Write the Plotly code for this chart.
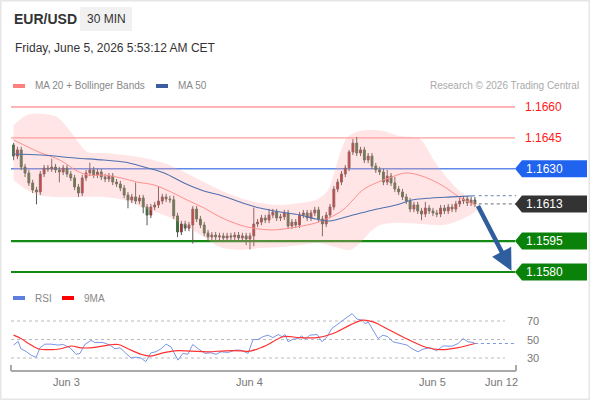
import plotly.graph_objects as go

W, H = 590, 400
def px(x): return x / W
def py(y): return 1 - y / H

# ---------------- data ----------------
closes = [
1.16362, 1.16392, 1.16309, 1.16280, 1.16232, 1.16198, 1.16188, 1.16275, 1.16304, 1.16300,
1.16309, 1.16295, 1.16285, 1.16304, 1.16275, 1.16256, 1.16212, 1.16183, 1.16256, 1.16280,
1.16295, 1.16270, 1.16285, 1.16261, 1.16251, 1.16265, 1.16236, 1.16227, 1.16207, 1.16173,
1.16149, 1.16164, 1.16144, 1.16159, 1.16115, 1.16076, 1.16115, 1.16125, 1.16144, 1.16164,
1.16154, 1.16150, 1.16072, 1.15994, 1.16033, 1.16013, 1.16028, 1.16105, 1.16057, 1.16028,
1.15989, 1.15970, 1.15979, 1.15970, 1.15975, 1.15965, 1.15975, 1.15970, 1.15979, 1.15965,
1.15975, 1.15960, 1.15975, 1.16033, 1.16042, 1.16062, 1.16052, 1.16076, 1.16091, 1.16062,
1.16067, 1.16086, 1.16023, 1.16042, 1.16028, 1.16076, 1.16086, 1.16062, 1.16086, 1.16101,
1.16057, 1.16033, 1.16076, 1.16115, 1.16202, 1.16236, 1.16275, 1.16304, 1.16382, 1.16425,
1.16377, 1.16392, 1.16343, 1.16362, 1.16314, 1.16295, 1.16285, 1.16236, 1.16265, 1.16232,
1.16202, 1.16188, 1.16164, 1.16144, 1.16105, 1.16125, 1.16096, 1.16081, 1.16110, 1.16096,
1.16086, 1.16081, 1.16110, 1.16096, 1.16115, 1.16105, 1.16130, 1.16144, 1.16154, 1.16135,
1.16149, 1.16130]

opens = [
1.16416, 1.16362, 1.16392, 1.16309, 1.16280, 1.16232, 1.16198, 1.16188, 1.16275, 1.16304,
1.16300, 1.16309, 1.16295, 1.16285, 1.16304, 1.16275, 1.16256, 1.16212, 1.16183, 1.16256,
1.16280, 1.16295, 1.16270, 1.16285, 1.16261, 1.16251, 1.16265, 1.16236, 1.16227, 1.16207,
1.16173, 1.16149, 1.16164, 1.16144, 1.16159, 1.16115, 1.16076, 1.16115, 1.16125, 1.16144,
1.16164, 1.16154, 1.16150, 1.16072, 1.15994, 1.16033, 1.16013, 1.16028, 1.16105, 1.16057,
1.16028, 1.15989, 1.15970, 1.15979, 1.15970, 1.15975, 1.15965, 1.15975, 1.15970, 1.15979,
1.15965, 1.15975, 1.15960, 1.15975, 1.16033, 1.16042, 1.16062, 1.16052, 1.16076, 1.16091,
1.16062, 1.16067, 1.16086, 1.16023, 1.16042, 1.16028, 1.16076, 1.16086, 1.16062, 1.16086,
1.16101, 1.16057, 1.16033, 1.16076, 1.16115, 1.16202, 1.16236, 1.16275, 1.16304, 1.16382,
1.16425, 1.16377, 1.16392, 1.16343, 1.16362, 1.16314, 1.16295, 1.16285, 1.16236, 1.16265,
1.16232, 1.16202, 1.16188, 1.16164, 1.16144, 1.16105, 1.16125, 1.16096, 1.16081, 1.16110,
1.16096, 1.16086, 1.16081, 1.16110, 1.16096, 1.16115, 1.16105, 1.16130, 1.16144, 1.16154,
1.16135, 1.16149]

# upper / lower wick lengths in pips
wick_up = [
1, 1.5, 1.5, 1.5, 1.5, 1.5, 1.5, 1.5, 1.5, 1.5,
4, 1.5, 1.5, 1.5, 1.5, 1.5, 1.5, 1.5, 1.5, 1.5,
3.5, 1.5, 1.5, 1.5, 1.5, 1.5, 1.5, 1.5, 1.5, 1.5,
1.5, 1.5, 7, 1.5, 1.5, 1.5, 1.5, 1.5, 7, 1.5,
1.5, 1.5, 2, 1.5, 1.5, 1.5, 1.5, 1.5, 1.5, 1.5,
1.5, 1.5, 1.5, 1.5, 1.5, 1.5, 1.5, 1.5, 1.5, 1.5,
1.5, 1.5, 1.5, 8, 1.5, 1.5, 1.5, 3, 1.5, 1.5,
1.5, 1.5, 1.5, 1.5, 1.5, 1.5, 1.5, 1.5, 1.5, 1.5,
1.5, 1.5, 1.5, 1.5, 1.5, 1.5, 1.5, 1.5, 1, 2,
3, 1.5, 1.5, 1.5, 1.5, 1.5, 1.5, 1.5, 3, 1.5,
3, 1.5, 1.5, 1.5, 1.5, 1.5, 1.5, 1.5, 3, 1.5,
1.5, 1.5, 1.5, 1.5, 1.5, 1.5, 1.5, 1.5, 1.5, 1.5,
1.5, 1.5]
wick_dn = [
2, 1.5, 1.5, 2, 1.5, 1.5, 6, 1.5, 1.5, 1.5,
1.5, 1.5, 5, 1.5, 1.5, 1.5, 1.5, 2, 1.5, 1.5,
1.5, 1.5, 1.5, 1.5, 1.5, 1.5, 1.5, 1.5, 1.5, 1.5,
4, 1.5, 1.5, 1.5, 3, 5, 1.5, 1.5, 1.5, 1.5,
1.5, 1.5, 1.5, 2.5, 1.5, 1.5, 1.5, 9, 1.5, 1.5,
1.5, 2, 1.5, 1.5, 1.5, 1.5, 1.5, 1.5, 1.5, 1.5,
1.5, 3, 5, 5, 1.5, 1.5, 1.5, 1.5, 1.5, 1.5,
1.5, 1.5, 1.5, 1.5, 1.5, 1.5, 1.5, 1.5, 1.5, 1.5,
1.5, 6, 1.5, 1.5, 1.5, 1.5, 1.5, 1.5, 1.5, 1.5,
1.5, 1.5, 1.5, 1.5, 1.5, 1.5, 1.5, 1.5, 1.5, 1.5,
1.5, 1.5, 1.5, 1.5, 1.5, 1.5, 1.5, 3, 1.5, 1.5,
1.5, 1.5, 1.5, 1.5, 1.5, 1.5, 1.5, 1.5, 1.5, 1.5,
1.5, 1.5]

# MA20 (candle index, price)
ma20_x = [0, 3.8, 7.2, 10.9, 13.5, 16.1, 19.5, 23.7, 28.2, 32.4, 36.8, 41.3, 45.5, 50, 54.1,
          59.4, 62.8, 68, 74.1, 79.3, 82.7, 86.4, 89, 91.6, 95.1, 98.5, 102.7, 106.3, 109.7,
          113.1, 116.8, 121]
ma20_y = [1.16440, 1.16406, 1.16377, 1.16353, 1.16328, 1.16295, 1.16270, 1.16270, 1.16256,
          1.16236, 1.16222, 1.16188, 1.16149, 1.16110, 1.16067, 1.16028, 1.16013, 1.16004,
          1.16018, 1.16038, 1.16062, 1.16101, 1.16149, 1.16198, 1.16232, 1.16256, 1.16280,
          1.16270, 1.16246, 1.16212, 1.16164, 1.16125]

# MA50
ma50_x = [0, 7.2, 16.1, 23.7, 29, 34.2, 39.5, 44.7, 49.9, 54.1, 59.4, 64.6, 69.9, 75.1, 79.3,
          82.7, 89, 94.3, 100.3, 104.5, 109.7, 115, 121]
ma50_y = [1.16372, 1.16367, 1.16353, 1.16343, 1.16333, 1.16309, 1.16280, 1.16232, 1.16193,
          1.16173, 1.16139, 1.16110, 1.16091, 1.16076, 1.16057, 1.16047, 1.16076, 1.16101,
          1.16125, 1.16149, 1.16159, 1.16164, 1.16170]

# Bollinger bands
bb_up_x = [0, 3.5, 7.7, 11.4, 14, 16.6, 19.3, 23.7, 29, 34.2, 39.4, 44.7, 49.9, 54.1, 59.4,
           64.6, 69.9, 75.1, 79.3, 82.5, 84.3, 87.4, 90.9, 96.9, 101.3, 106.6, 110.5, 114.2,
           117.6, 121.5]
bb_up_y = [1.16513, 1.16561, 1.16566, 1.16552, 1.16503, 1.16440, 1.16382, 1.16377, 1.16367,
           1.16353, 1.16328, 1.16285, 1.16236, 1.16198, 1.16159, 1.16135, 1.16125, 1.16135,
           1.16149, 1.16198, 1.16295, 1.16450, 1.16484, 1.16484, 1.16459, 1.16445, 1.16333,
           1.16246, 1.16183, 1.16135]
bb_lo_x = [0, 3.5, 7.7, 16.6, 23.7, 29, 34.2, 39.4, 44.7, 49.9, 54.1, 59.4, 64.6, 69.9, 75.1,
           80.4, 84.3, 88.2, 90.9, 93.5, 96.1, 100, 106.6, 112.6, 117.1, 121.5]
bb_lo_y = [1.16246, 1.16198, 1.16168, 1.16164, 1.16164, 1.16149, 1.16110, 1.16076, 1.16028,
           1.15970, 1.15921, 1.15907, 1.15916, 1.15921, 1.15931, 1.15941, 1.15921, 1.15907,
           1.15941, 1.15994, 1.16028, 1.16038, 1.16033, 1.16028, 1.16052, 1.16101]

# RSI and its 9MA
rsi_x = [0, 1.2, 1.9, 3.3, 4.6, 5.9, 6.9, 8.2, 9.8, 11.6, 13, 14.8, 16.4, 17.4, 18.7, 20.3,
         21.3, 23.4, 25.3, 26.6, 27.9, 29.5, 30.8, 32.1, 33.4, 34.7, 36, 37.3, 38.7, 40, 41.3,
         43.1, 44.4, 45.7, 47, 48.4, 50.2, 51.8, 53.1, 54.4, 56.3, 58.1, 59.6, 61.5, 62.8,
         64.1, 65.4, 66.7, 68, 69.4, 70.4, 71.2, 72, 73.3, 74.6, 75.6, 76.4, 77.7, 79.6, 80.9,
         82.2, 83.5, 84.8, 86.4, 87.7, 88.8, 90.1, 91.4, 92.2, 93, 94.3, 95.6, 96.9, 98.2,
         99.5, 101.3, 103.2, 104.5, 106.1, 107.4, 109.3, 111, 112.6, 115, 116.6, 117.9, 119.2,
         120.5, 121]
rsi_y = [43.9, 48, 40, 37, 33, 30.6, 41, 45, 45, 44, 44.6, 41, 34, 35, 44.6, 49, 46.8, 46.8,
         44, 40, 41, 35, 30, 31, 30, 26, 35.6, 36.7, 40, 45, 42, 27.7, 35, 34, 44.6, 40, 35,
         35.6, 34, 36.7, 36, 38.5, 38.5, 35, 50, 50, 53, 54.7, 52, 55.4, 53, 55.4, 47.5, 50.4,
         51, 54, 50, 54.7, 55.4, 47.5, 53, 62, 66, 70, 74.5, 78, 72, 71, 67, 69, 60, 51, 54.7,
         53, 47.5, 45.7, 44, 40, 36.7, 39.6, 41, 37.8, 43, 42.8, 45.7, 51, 47.5, 46.8, 45.7]
ma9_x = [0, 1.9, 4.6, 6.4, 9.8, 12.4, 15.1, 17.7, 21.3, 24.8, 27.4, 30, 33.4, 36, 38.7, 42.3,
         46.5, 51, 55.5, 59.6, 62, 66.5, 70.7, 75.1, 79.6, 83.8, 88.2, 91.6, 94.3, 98.7, 104,
         108.4, 111.8, 116.3, 121]
ma9_y = [54.7, 51, 44, 40, 39, 40, 43, 41, 41.4, 44, 44.6, 40, 34, 32, 35, 37.8, 37.4, 36.7,
         37.8, 37.8, 37.4, 44, 53, 52, 52, 56.5, 65.5, 71, 69, 60, 49, 41.4, 39, 41, 45.7]

levels_red = [1.1660, 1.1645]
level_blue = 1.1630
level_last = 1.1613
levels_green = [1.1595, 1.1580]
rsi_levels = [70, 50, 30]

tick_idx = [14, 62, 110, 128]
tick_text = ["Jun 3", "Jun 4", "Jun 5", "Jun 12"]

idx = list(range(len(closes)))
highs = [max(o, c) + u * 0.0001 for o, c, u in zip(opens, closes, wick_up)]
lows = [min(o, c) - d * 0.0001 for o, c, d in zip(opens, closes, wick_dn)]

# ---------------- figure ----------------
FONT = "Liberation Sans, Arial, sans-serif"
fig = go.Figure()

fig.add_trace(go.Scatter(
    x=bb_up_x + bb_lo_x[::-1], y=bb_up_y + bb_lo_y[::-1], fill="toself",
    fillcolor="rgba(255,160,160,0.28)", line=dict(width=0, shape="spline", smoothing=0.8),
    mode="lines", hoverinfo="skip", showlegend=False))
fig.add_trace(go.Scatter(x=ma20_x, y=ma20_y, mode="lines",
    line=dict(color="#FF8F8F", width=1, shape="spline"), hoverinfo="skip", showlegend=False))
fig.add_trace(go.Scatter(x=ma50_x, y=ma50_y, mode="lines",
    line=dict(color="#5070AE", width=1.1, shape="spline"), hoverinfo="skip", showlegend=False))
fig.add_trace(go.Candlestick(
    x=idx, open=opens, high=highs, low=lows, close=closes,
    increasing=dict(fillcolor="#E01010", line=dict(color="#6a5050", width=1)),
    decreasing=dict(fillcolor="#1E7E1E", line=dict(color="#4f5f4f", width=1)),
    whiskerwidth=0, hoverinfo="skip", showlegend=False))

# RSI
fig.add_trace(go.Scatter(x=rsi_x, y=rsi_y, mode="lines", yaxis="y2",
    line=dict(color="#7B96E6", width=1), hoverinfo="skip", showlegend=False))
fig.add_trace(go.Scatter(x=ma9_x, y=ma9_y, mode="lines", yaxis="y2",
    line=dict(color="#FF3030", width=1.2, shape="spline"), hoverinfo="skip", showlegend=False))
fig.add_trace(go.Scatter(x=[rsi_x[-1], 131.5], y=[rsi_y[-1], rsi_y[-1]], mode="lines", yaxis="y2",
    line=dict(color="#7B96E6", width=1.2, dash="dot"), hoverinfo="skip", showlegend=False))

shapes = []
ann = []

# frame
shapes.append(dict(type="rect", xref="paper", yref="paper", x0=0, y0=0, x1=1, y1=1,
                   line=dict(color="#e6e6e6", width=3), layer="above"))
# header box
shapes.append(dict(type="rect", xref="paper", yref="paper", x0=px(80), x1=px(132),
                   y0=py(31), y1=py(7), fillcolor="#f1f1f1", line=dict(width=0), layer="below"))

# level lines
for lv in levels_red:
    shapes.append(dict(type="line", xref="paper", yref="y", x0=px(11), x1=px(515), y0=lv, y1=lv,
                       line=dict(color="#FF9C9C", width=1.3), layer="below"))
    ann.append(dict(xref="paper", yref="y", x=px(523), y=lv, text=f"{lv:.4f}", showarrow=False,
                    xanchor="left", yanchor="middle", font=dict(color="#FF1A1A", size=12, family=FONT)))
shapes.append(dict(type="line", xref="paper", yref="y", x0=px(11), x1=px(515), y0=level_blue,
                   y1=level_blue, line=dict(color="#5F8BE8", width=1.5), layer="below"))
for lv in levels_green:
    shapes.append(dict(type="line", xref="paper", yref="y", x0=px(11), x1=px(515), y0=lv, y1=lv,
                       line=dict(color="#138A13", width=2.2), layer="below"))

# dotted continuation lines
shapes.append(dict(type="line", xref="x", yref="y", x0=idx[-1] + 1, x1=131.8,
                   y0=closes[-1], y1=closes[-1], line=dict(color="#888888", width=1.2, dash="dot")))
shapes.append(dict(type="line", xref="x", yref="y", x0=idx[-1] + 1, x1=131.8,
                   y0=ma50_y[-1], y1=ma50_y[-1], line=dict(color="#8a9abb", width=1.2, dash="dot")))

# price tags
tag_path = "M0,0 L7,8.5 L72,8.5 L72,-8.5 L7,-8.5 Z"
tags = [(level_blue, "#1F63EE"), (level_last, "#333333")] + [(g, "#0A820A") for g in levels_green]
for lv, col in tags:
    shapes.append(dict(type="path", xref="paper", yref="y", xsizemode="pixel", ysizemode="pixel",
                       xanchor=px(515), yanchor=lv, path=tag_path, fillcolor=col,
                       line=dict(width=0), layer="above"))
    ann.append(dict(xref="paper", yref="y", x=px(524), y=lv, text=f"{lv:.4f}", showarrow=False,
                    xanchor="left", yanchor="middle", font=dict(color="white", size=12, family=FONT)))

# RSI guide lines
for lv in rsi_levels:
    shapes.append(dict(type="line", xref="paper", yref="y2", x0=px(11), x1=px(505), y0=lv, y1=lv,
                       line=dict(color="#BBBBBB", width=1.2, dash="dot"), layer="below"))
    ann.append(dict(xref="paper", yref="y2", x=px(525), y=lv, text=str(lv), showarrow=False,
                    xanchor="left", yanchor="middle", font=dict(color="#777777", size=11, family=FONT)))

# bottom axis
ax_col = "#AAAAAA"
shapes.append(dict(type="line", xref="paper", yref="paper", x0=px(11), x1=px(516), y0=py(371),
                   y1=py(371), line=dict(color=ax_col, width=2)))
for xe in (11, 516):
    shapes.append(dict(type="line", xref="paper", yref="paper", x0=px(xe), x1=px(xe), y0=py(371),
                       y1=py(365), line=dict(color=ax_col, width=2)))
for ti, tt in zip(tick_idx, tick_text):
    ann.append(dict(xref="x", yref="paper", x=ti, y=py(382), text=tt, showarrow=False,
                    xanchor="center", yanchor="middle", font=dict(color="#777777", size=11, family=FONT)))

# forecast arrow
ann.append(dict(xref="x", yref="y", x=130.6, y=levels_green[1] + 0.00006, axref="x", ayref="y",
                ax=idx[-1] + 0.6, ay=closes[-1] - 0.00003, text="", showarrow=True,
                arrowhead=2, arrowsize=0.95, arrowwidth=4.5, arrowcolor="#2E5E9E", standoff=0))

# header texts
ann.append(dict(xref="paper", yref="paper", x=px(12), y=py(19), text="<b>EUR/USD</b>",
                showarrow=False, xanchor="left", yanchor="middle",
                font=dict(color="#333333", size=14, family=FONT)))
ann.append(dict(xref="paper", yref="paper", x=px(106), y=py(19), text="30 MIN",
                showarrow=False, xanchor="center", yanchor="middle",
                font=dict(color="#333333", size=12, family=FONT)))
ann.append(dict(xref="paper", yref="paper", x=px(13), y=py(48),
                text="Friday, June 5, 2026 5:53:12 AM CET", showarrow=False, xanchor="left",
                yanchor="middle", font=dict(color="#333333", size=12, family=FONT)))

# legends
def legend_item(x, y, color, text):
    shapes.append(dict(type="line", xref="paper", yref="paper", x0=px(x), x1=px(x + 12),
                       y0=py(y), y1=py(y), line=dict(color=color, width=4)))
    ann.append(dict(xref="paper", yref="paper", x=px(x + 20), y=py(y), text=text,
                    showarrow=False, xanchor="left", yanchor="middle",
                    font=dict(color="#888888", size=10, family=FONT)))

legend_item(13, 86, "#FF7F7F", "MA 20 + Bollinger Bands")
legend_item(156, 86, "#3A5F9F", "MA 50")
legend_item(13, 298, "#5E7FE0", "RSI")
legend_item(62, 298, "#FF0000", "9MA")
ann.append(dict(xref="paper", yref="paper", x=px(581), y=py(86),
                text="Research © 2026 Trading Central", showarrow=False, xanchor="right",
                yanchor="middle", font=dict(color="#AAAAAA", size=10, family=FONT)))

# axis ranges (pixel-aligned)
x_lo = (0 - 13.6) / 3.8125
x_hi = (590 - 13.6) / 3.8125
y_top = 1.1660 + 107 / 20625
y_bot = 1.1660 - 293 / 20625
r_top = 50 + 339.5 / 0.925
r_bot = 50 - 60.5 / 0.925

fig.update_layout(
    width=W, height=H, margin=dict(l=0, r=0, t=0, b=0),
    paper_bgcolor="white", plot_bgcolor="white",
    font=dict(family=FONT),
    xaxis=dict(range=[x_lo, x_hi], visible=False, rangeslider=dict(visible=False),
               showgrid=False, zeroline=False, fixedrange=True),
    yaxis=dict(range=[y_bot, y_top], visible=False, showgrid=False, zeroline=False,
               domain=[0, 1]),
    yaxis2=dict(range=[r_bot, r_top], visible=False, overlaying="y", showgrid=False,
                zeroline=False),
    shapes=shapes, annotations=ann, showlegend=False, hovermode=False,
)

fig.write_html("out.html")
